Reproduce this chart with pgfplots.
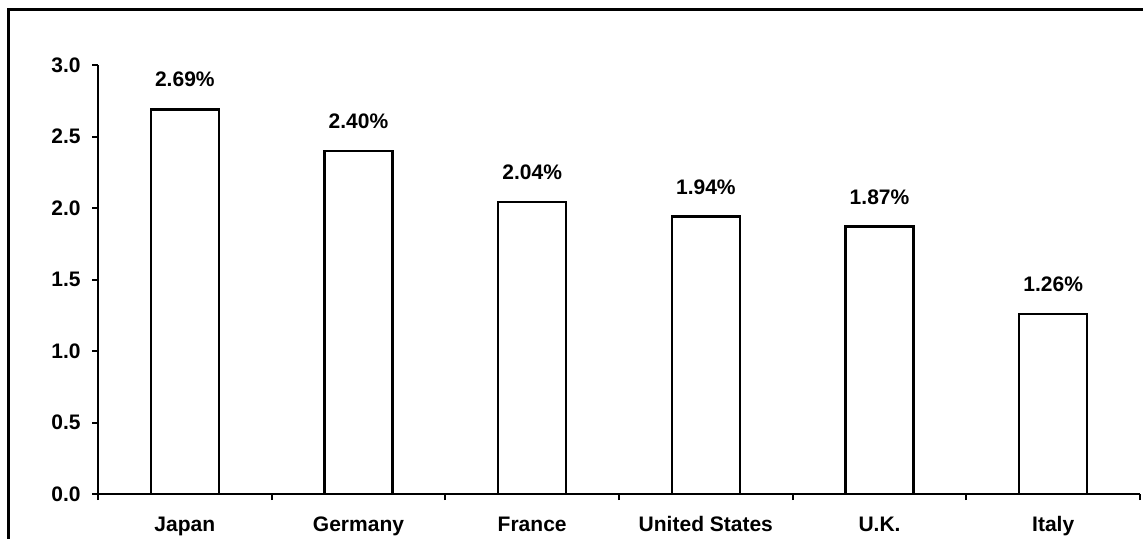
\documentclass[border=0pt]{standalone}
\usepackage{pgfplots}
\pgfplotsset{compat=1.18}
\usepackage{fontspec}
\setmainfont{Liberation Sans}
\begin{document}
\fontsize{10.5pt}{12pt}\selectfont\bfseries
\begin{tikzpicture}
\path[use as bounding box] (0,0) rectangle (571.5pt,269pt);
\draw[line width=1.5pt] (4.3pt,-2pt) -- (4.3pt,264.5pt) -- (573pt,264.5pt);
\begin{axis}[
  at={(49pt,22pt)}, anchor=south west,
  scale only axis, width=521pt, height=214.5pt,
  xmin=-0.5, xmax=5.5, ymin=0, ymax=3,
  axis x line*=bottom, axis y line*=left,
  axis line style={-, line width=1.2pt},
  xtick={0,...,5},
  xticklabels={Japan,Germany,France,United States,U.K.,Italy},
  major x tick style={draw=none},
  minor xtick={-0.5,0.5,1.5,2.5,3.5,4.5,5.5},
  minor tick length=3pt,
  minor x tick style={line width=1pt, black},
  ytick={0,0.5,...,3},
  major tick length=3pt,
  tick align=outside,
  y tick style={line width=1pt, black},
  /pgf/number format/fixed,
  /pgf/number format/fixed zerofill,
  /pgf/number format/precision=1,
  /pgf/number format/assume math mode=true,
  yticklabel style={font=\fontsize{10.5pt}{12pt}\selectfont\bfseries, xshift=-2pt},
  xticklabel style={font=\fontsize{10.5pt}{12pt}\selectfont\bfseries, anchor=base, yshift=-15.5pt},
  ybar, bar width=34pt,
  nodes near coords={\pgfmathprintnumber[fixed,fixed zerofill,precision=2,assume math mode=true]{\pgfplotspointmeta}\%},
  nodes near coords style={font=\fontsize{10.5pt}{12pt}\selectfont\bfseries, anchor=south, yshift=7pt},
  clip=false,
]
\addplot[fill=white, draw=black, line width=1.2pt] coordinates {(0,2.69) (1,2.40) (2,2.04) (3,1.94) (4,1.87) (5,1.26)};
\end{axis}
\end{tikzpicture}
\end{document}
